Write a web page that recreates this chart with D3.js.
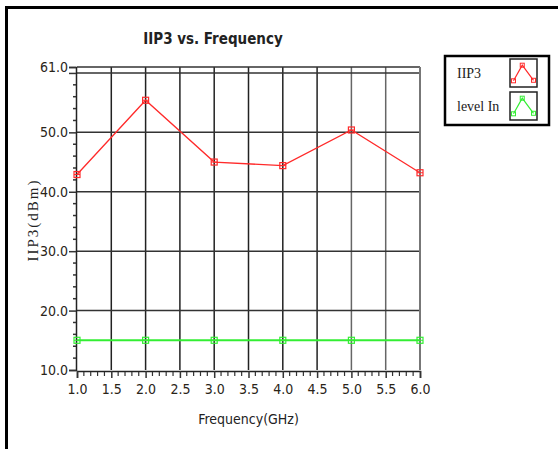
<!DOCTYPE html>
<html>
<head>
<meta charset="utf-8">
<script src="https://cdn.jsdelivr.net/npm/d3@7"></script>
<style>
  body { margin: 0; background: #fff; }
  text { fill: #222; }
</style>
</head>
<body>
<div id="chart"></div>
<script>
// data
var freq = [1.0, 2.0, 3.0, 4.0, 5.0, 6.0];
var iip3 = [42.9, 55.4, 45.0, 44.4, 50.4, 43.2];
var levelIn = [15.0, 15.0, 15.0, 15.0, 15.0, 15.0];
var xTicks = [1.0, 1.5, 2.0, 2.5, 3.0, 3.5, 4.0, 4.5, 5.0, 5.5, 6.0];
var yTicks = [10, 20, 30, 40, 50, 61];
var yGrid = [20, 30, 40, 50, 60];
var seriesNames = ["IIP3", "level In"];
var seriesColors = ["#ff2a2a", "#33ee33"];

var W = 558, H = 449;
var plotL = 77, plotR = 420, plotT = 67, plotB = 370;
var narrow = "'Liberation Sans Narrow', 'DejaVu Sans Condensed', sans-serif";

var svg = d3.select("#chart").append("svg")
    .attr("width", W)
    .attr("height", H);

// outer frame (left + top edges)
svg.append("path")
  .attr("d", "M6.5," + H + "V7.5H" + W)
  .attr("fill", "none")
  .attr("stroke", "#000")
  .attr("stroke-width", 3);

var x = d3.scaleLinear().domain([1, 6]).range([plotL, plotR]);
var y = d3.scaleLinear().domain([10, 61]).range([plotB, plotT]);

// title
svg.append("text")
  .attr("x", 213)
  .attr("y", 44)
  .attr("text-anchor", "middle")
  .style("font-family", narrow)
  .style("font-weight", "bold")
  .style("font-size", "15px")
  .text("IIP3 vs. Frequency");

// grid
var grid = svg.append("g");
grid.selectAll(".vg").data(xTicks.slice(1))
  .enter().append("line")
    .attr("x1", function(d) { return x(d); })
    .attr("x2", function(d) { return x(d); })
    .attr("y1", y(61))
    .attr("y2", y(10))
    .attr("stroke", function(d) { return d >= 5 ? "#666" : "#222"; })
    .attr("stroke-width", 1.5);
grid.selectAll(".hg").data(yGrid.concat([61]))
  .enter().append("line")
    .attr("x1", x(1))
    .attr("x2", x(6))
    .attr("y1", function(d) { return y(d); })
    .attr("y2", function(d) { return y(d); })
    .attr("stroke", "#333")
    .attr("stroke-width", 1.5);

// Y axis
var yAxis = d3.axisLeft(y)
  .tickValues(yTicks.concat([60]))
  .tickSize(7)
  .tickFormat(function(d) { return d === 60 ? "" : d3.format(".1f")(d); });
var gy = svg.append("g")
  .attr("transform", "translate(" + (plotL - 1) + ",0)")
  .call(yAxis);
gy.select(".domain").attr("stroke", "#222").attr("stroke-width", 1.5);
gy.selectAll(".tick line").attr("stroke", "#333").attr("stroke-width", 1.5);
gy.selectAll(".tick text")
  .attr("x", -8)
  .style("font-family", narrow)
  .style("font-size", "14px")
  .style("fill", "#2a2418");
// minor y ticks
svg.append("g").selectAll("line")
  .data(d3.range(12, 60, 2).filter(function(d) { return d % 10 !== 0; }))
  .enter().append("line")
    .attr("x1", plotL - 4)
    .attr("x2", plotL - 1)
    .attr("y1", function(d) { return y(d); })
    .attr("y2", function(d) { return y(d); })
    .attr("stroke", "#333")
    .attr("stroke-width", 1.5);

// X axis
var xAxis = d3.axisBottom(x)
  .tickValues(xTicks)
  .tickSize(7)
  .tickFormat(d3.format(".1f"));
var gx = svg.append("g")
  .attr("transform", "translate(0," + (plotB + 1) + ")")
  .call(xAxis);
gx.select(".domain").attr("stroke", "#222").attr("stroke-width", 1.5);
gx.selectAll(".tick line").attr("stroke", "#333").attr("stroke-width", 1.5);
gx.selectAll(".tick text")
  .attr("y", 13)
  .style("font-family", narrow)
  .style("font-size", "14px")
  .style("fill", "#2a2418");
// minor x ticks
svg.append("g").selectAll("line")
  .data(d3.range(11, 60).filter(function(d) { return d % 5 !== 0; }))
  .enter().append("line")
    .attr("x1", function(d) { return x(d / 10); })
    .attr("x2", function(d) { return x(d / 10); })
    .attr("y1", plotB + 2)
    .attr("y2", plotB + 6)
    .attr("stroke", "#333")
    .attr("stroke-width", 1.2);

// right plot edge
svg.append("line")
  .attr("x1", x(6)).attr("x2", x(6))
  .attr("y1", y(61)).attr("y2", y(10))
  .attr("stroke", "#777").attr("stroke-width", 2);

// axis titles
svg.append("text")
  .attr("x", (plotL + plotR) / 2)
  .attr("y", 424)
  .attr("text-anchor", "middle")
  .style("font-family", narrow)
  .style("font-size", "14px")
  .text("Frequency(GHz)");

svg.append("text")
  .attr("transform", "translate(38," + 220 + ") rotate(-90)")
  .attr("text-anchor", "middle")
  .style("font-family", "'Liberation Serif', serif")
  .style("font-size", "15px")
  .style("letter-spacing", "2px")
  .text("IIP3(dBm)");

// series
var series = [iip3, levelIn];
var line = d3.line()
  .x(function(d, i) { return x(freq[i]); })
  .y(function(d) { return y(d); });

function marker(g, cx, cy, color) {
  g.append("rect")
    .attr("x", cx - 3).attr("y", cy - 3)
    .attr("width", 6).attr("height", 6)
    .attr("fill", "none").attr("stroke", color).attr("stroke-width", 1.2);
  g.append("line")
    .attr("x1", cx - 3).attr("x2", cx + 3)
    .attr("y1", cy).attr("y2", cy)
    .attr("stroke", color).attr("stroke-width", 1);
}

series.forEach(function(vals, k) {
  var g = svg.append("g");
  g.append("path")
    .datum(vals)
    .attr("fill", "none")
    .attr("stroke", seriesColors[k])
    .attr("stroke-width", k === 1 ? 2 : 1.3)
    .attr("d", line);
  vals.forEach(function(v, i) {
    marker(g, x(freq[i]), y(v), seriesColors[k]);
  });
});

// legend
var leg = svg.append("g");
leg.append("rect")
  .attr("x", 445).attr("y", 56)
  .attr("width", 104).attr("height", 69)
  .attr("fill", "#fff").attr("stroke", "#000").attr("stroke-width", 2.5);

var iconPts = [[0.1, 0.8], [0.45, 0.2], [0.9, 0.78]];
seriesNames.forEach(function(name, k) {
  var oy = 59 + k * 33;
  leg.append("text")
    .attr("x", 457)
    .attr("y", oy + 19)
    .style("font-family", "'Liberation Serif', serif")
    .style("font-size", "14px")
    .text(name);
  leg.append("rect")
    .attr("x", 510).attr("y", oy)
    .attr("width", 27).attr("height", 28)
    .attr("fill", "#fff").attr("stroke", "#222").attr("stroke-width", 1.5);
  var ix = d3.scaleLinear().domain([0, 1]).range([511, 536]);
  var iy = d3.scaleLinear().domain([0, 1]).range([oy + 1, oy + 27]);
  leg.append("path")
    .attr("d", d3.line().x(function(p) { return ix(p[0]); }).y(function(p) { return iy(p[1]); })(iconPts))
    .attr("fill", "none").attr("stroke", seriesColors[k]).attr("stroke-width", 1.2);
  iconPts.forEach(function(p) {
    leg.append("rect")
      .attr("x", ix(p[0]) - 2).attr("y", iy(p[1]) - 2)
      .attr("width", 4).attr("height", 4)
      .attr("fill", "none").attr("stroke", seriesColors[k]).attr("stroke-width", 1);
  });
});
</script>
</body>
</html>
